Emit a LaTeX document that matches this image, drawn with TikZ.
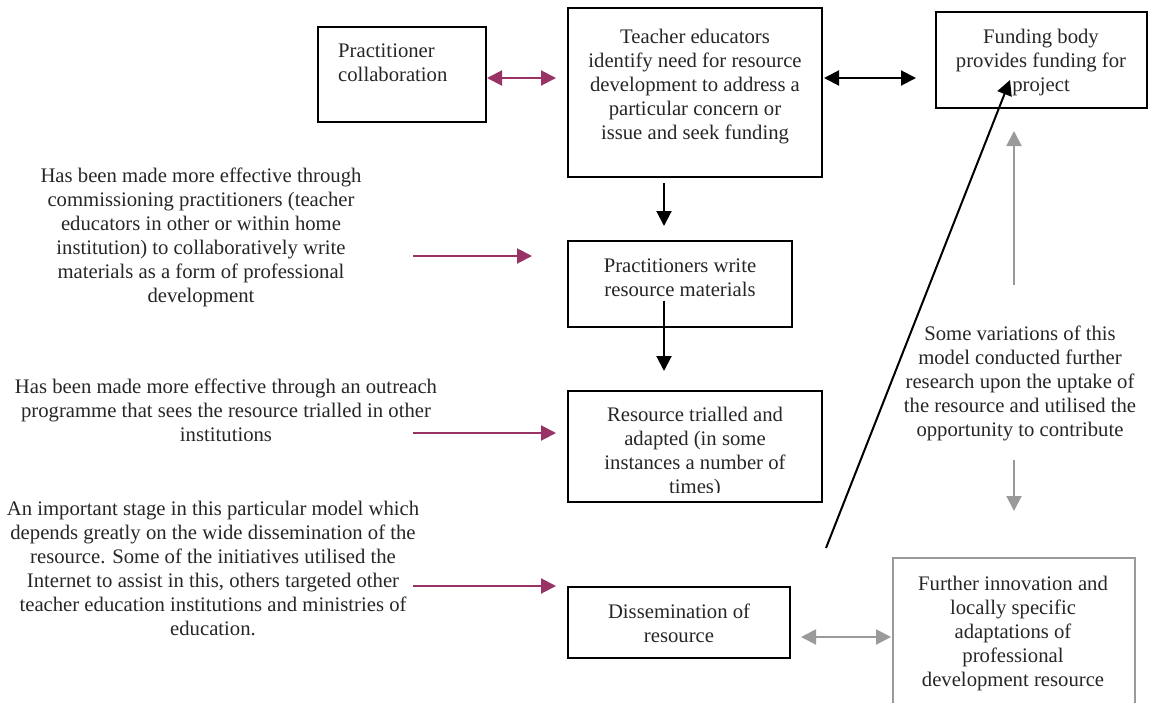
\documentclass[tikz,border=0pt]{standalone}
\usepackage{fontspec}
\setmainfont{Liberation Serif}
\usetikzlibrary{arrows.meta,calc}
\definecolor{plum}{HTML}{993366}
\definecolor{midgray}{HTML}{9A9A9A}
\tikzset{
  boxn/.style={draw=black, line width=2pt, inner sep=0pt},
  grayboxn/.style={draw=midgray, line width=2pt, inner sep=0pt},
  txt/.style={align=center, inner sep=0pt, text=black!85, font=\fontsize{20.7}{24}\selectfont},
  blackarr/.style={line width=2pt, -{Triangle[length=15pt,width=15pt]}},
  blackdbl/.style={line width=2pt, {Triangle[length=15pt,width=15pt]}-{Triangle[length=15pt,width=15pt]}},
  plumarr/.style={draw=plum, line width=2pt, -{Triangle[length=15pt,width=15pt]}},
  plumdbl/.style={draw=plum, line width=2pt, {Triangle[length=15pt,width=15pt]}-{Triangle[length=15pt,width=15pt]}},
  grayarr/.style={draw=midgray, line width=2pt, -{Triangle[length=15pt,width=15pt]}},
  graydbl/.style={draw=midgray, line width=2pt, {Triangle[length=15pt,width=15pt]}-{Triangle[length=15pt,width=15pt]}},
}
\begin{document}
\begin{tikzpicture}[x=1pt,y=-1pt]
\useasboundingbox (0,0) rectangle (1161,702);

% boxes
\node[boxn, minimum width=168pt, minimum height=95pt] (prac) at (402,74.5) {};
\node[boxn, minimum width=254pt, minimum height=169pt] (teach) at (695,92.5) {};
\node[boxn, minimum width=211pt, minimum height=96pt] (fund) at (1041.5,60) {};
\node[boxn, minimum width=224pt, minimum height=86pt] (write) at (680,284) {};
\node[boxn, minimum width=254pt, minimum height=111pt] (trial) at (695,446.5) {};
\node[boxn, minimum width=222pt, minimum height=71pt] (diss) at (679,622.5) {};
\node[grayboxn, minimum width=242pt, minimum height=170pt] (further) at (1014,643) {};

% box texts
\node[txt, align=left, anchor=west] (practxt) at (338,63) {Practitioner\\collaboration};
\node[txt] (teachtxt) at (695,86.5) {Teacher educators\\identify need for resource\\development to address a\\particular concern or\\issue and seek funding};
\node[txt] (fundtxt) at (1041,62.5) {Funding body\\provides funding for\\project};
\node[txt] (writetxt) at (680,278) {Practitioners write\\resource materials};
\begin{scope}
  \clip (568,391) rectangle (822,492);
  \node[txt] (trialtxt) at (695,452.5) {Resource trialled and\\adapted (in some\\instances a number of\\times)};
\end{scope}
\node[txt] (disstxt) at (679,623) {Dissemination of\\resource};
\node[txt] (furthertxt) at (1013,633.5) {Further innovation and\\locally specific\\adaptations of\\professional\\development resource};
\node[txt] (vari) at (1020,383.5) {Some variations of this\\model conducted further\\research upon the uptake of\\the resource and utilised the\\opportunity to contribute};

% left notes
\node[txt] (notea) at (201,237.5) {Has been made more effective through\\commissioning practitioners (teacher\\educators in other or within home\\institution) to collaboratively write\\materials as a form of professional\\development};
\node[txt] (noteb) at (226,410) {Has been made more effective through an outreach\\programme that sees the resource trialled in other\\institutions};
\node[txt] (notec) at (213,568) {An important stage in this particular model which\\depends greatly on the wide dissemination of the\\resource. Some of the initiatives utilised the\\Internet to assist in this, others targeted other\\teacher education institutions and ministries of\\education.};

% free ends
\coordinate (sa) at (413,256);
\coordinate (sb) at (413,433);
\coordinate (sc) at (413,586);
\coordinate (diagstart) at (826,548);
\coordinate (diagend) at (1010,80);
\coordinate (upstart) at (1014,285);
\coordinate (downstart) at (1014,460);

% connectors
\draw[plumdbl] (prac.east |- 0,78) -- ($(teach.west |- 0,78)+(-11,0)$);
\draw[blackdbl] ($(teach.east |- 0,78)+(1,0)$) -- ($(fund.west |- 0,78)+(-19,0)$);
\draw[blackarr] ($(teach.south -| 664,0)+(0,5)$) -- ($(write.north -| 664,0)+(0,-14)$);
\draw[blackarr] ($(write.south -| 664,0)+(0,-27)$) -- ($(trial.north -| 664,0)+(0,-19)$);
\draw[plumarr] (sa) -- ($(write.west |- sa)+(-35,0)$);
\draw[plumarr] (sb) -- ($(trial.west |- sb)+(-11,0)$);
\draw[plumarr] (sc) -- ($(diss.west |- sc)+(-11,0)$);
\draw[blackarr] (diagstart) -- (diagend);
\draw[grayarr] (upstart) -- ($(fund.south -| upstart)+(0,22)$);
\draw[grayarr] (downstart) -- ($(further.north -| downstart)+(0,-46)$);
\draw[graydbl] ($(diss.east |- 0,637)+(10,0)$) -- ($(further.west |- 0,637)+(-1,0)$);
\end{tikzpicture}
\end{document}
